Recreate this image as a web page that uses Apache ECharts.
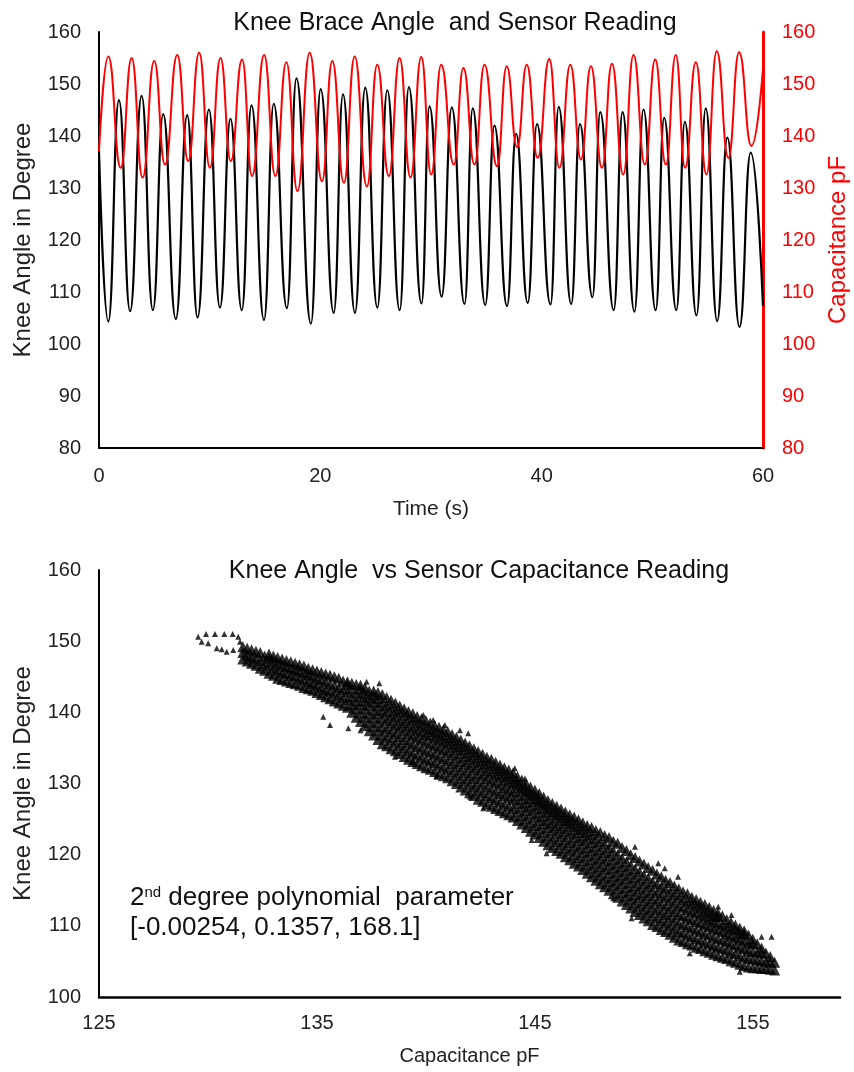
<!DOCTYPE html>
<html>
<head>
<meta charset="utf-8">
<script src="https://cdn.jsdelivr.net/npm/echarts@6/dist/echarts.min.js"></script>
<style>
html,body{margin:0;padding:0;background:#fff;}
#c{width:854px;height:1072px;}
</style>
</head>
<body>
<div id="c"></div>
<script>
// ---------- Top chart: knee angle (black) extremes ----------
const angleTime = [0, 0.84, 1.80, 2.81, 3.85, 4.87, 5.80, 6.94, 7.97, 8.91, 9.93, 10.93, 11.88, 12.90, 13.78, 14.91, 15.79, 16.98, 17.84, 19.15, 20.03, 21.21, 22.05, 23.13, 24.06, 25.15, 26.05, 27.17, 28.00, 29.14, 29.87, 30.96, 31.88, 33.03, 33.77, 34.90, 35.73, 36.87, 37.69, 38.74, 39.58, 40.80, 41.54, 42.67, 43.46, 44.59, 45.29, 46.51, 47.31, 48.38, 49.20, 50.30, 51.07, 52.17, 52.94, 53.99, 54.83, 55.86, 56.78, 57.88, 58.89, 60.0];
const angleValue = [137.1, 104.3, 146.9, 106.3, 147.7, 106.5, 144.2, 104.8, 144.0, 105.1, 145.1, 107.0, 143.3, 106.5, 145.9, 104.6, 146.2, 106.9, 151.1, 103.9, 149.0, 106.0, 148.0, 106.0, 149.3, 107.0, 148.8, 106.5, 149.4, 107.8, 145.7, 109.1, 145.5, 107.7, 145.3, 107.5, 142.0, 107.3, 140.4, 107.9, 142.3, 107.6, 145.6, 107.7, 142.3, 109.0, 144.6, 106.5, 144.6, 106.2, 145.1, 106.5, 143.5, 106.5, 142.7, 105.5, 145.3, 104.4, 139.7, 103.3, 136.8, 107.3];
// ---------- Top chart: capacitance (red) extremes ----------
const capTime = [0, 0.84, 1.96, 2.95, 3.94, 4.99, 5.96, 7.07, 8.06, 9.05, 10.02, 10.98, 11.91, 12.93, 13.83, 14.92, 15.94, 16.93, 17.93, 19.04, 20.15, 21.08, 22.13, 23.10, 24.21, 25.14, 26.19, 27.16, 28.15, 29.12, 30.02, 30.92, 32.06, 32.93, 33.93, 34.83, 35.97, 36.84, 37.78, 38.65, 39.64, 40.69, 41.60, 42.59, 43.55, 44.45, 45.45, 46.35, 47.37, 48.30, 49.33, 50.26, 51.22, 52.12, 52.96, 53.93, 54.89, 55.82, 56.87, 57.84, 58.95, 60.0];
const capValue = [137.0, 155.3, 133.9, 155.0, 132.0, 154.4, 134.5, 155.6, 135.2, 156.0, 133.9, 155.0, 135.2, 154.7, 132.3, 155.6, 132.3, 154.2, 129.4, 156.0, 131.3, 154.4, 131.0, 155.3, 130.3, 153.7, 132.3, 155.0, 132.0, 155.2, 132.6, 153.7, 134.5, 153.1, 134.5, 153.7, 134.2, 153.4, 137.8, 153.7, 135.8, 154.8, 133.9, 153.7, 135.5, 153.4, 133.9, 153.9, 132.6, 155.6, 134.5, 154.7, 134.5, 155.6, 133.9, 154.2, 132.6, 156.3, 135.8, 156.1, 138.1, 153.0];

const timeTicks = [0, 20, 40, 60];
const angleTicks = [80, 90, 100, 110, 120, 130, 140, 150, 160];

// ---------- Bottom chart: scatter points read column by column ----------
const scatterCapCols = [131.6, 132.0, 132.4, 132.8, 133.2, 133.6, 134.0, 134.4, 134.8, 135.2, 135.6, 136.0, 136.4, 136.8, 137.2, 137.6, 138.0, 138.4, 138.8, 139.2, 139.6, 140.0, 140.4, 140.8, 141.2, 141.6, 142.0, 142.4, 142.8, 143.2, 143.6, 144.0, 144.4, 144.8, 145.2, 145.6, 146.0, 146.4, 146.8, 147.2, 147.6, 148.0, 148.4, 148.8, 149.2, 149.6, 150.0, 150.4, 150.8, 151.2, 151.6, 152.0, 152.4, 152.8, 153.2, 153.6, 154.0, 154.4, 154.8, 155.2, 155.6, 156.0];
const scatterAngleCols = [
  [147.5, 148.4, 149.2],
  [146.9, 147.8, 148.8],
  [146.2, 147.3, 148.4],
  [145.5, 146.6, 147.6, 148.2],
  [144.8, 145.9, 146.9, 147.7],
  [144.4, 145.5, 146.4, 147.3],
  [144.0, 145.1, 146.0, 146.9],
  [143.5, 144.6, 145.6, 146.5],
  [143.1, 144.1, 145.1, 146.0],
  [142.5, 143.5, 144.6, 145.6],
  [141.9, 143.0, 144.0, 145.2],
  [141.3, 142.4, 143.5, 144.8],
  [140.7, 141.8, 142.9, 143.9, 144.3],
  [139.3, 140.5, 141.6, 142.7, 143.9],
  [138.1, 139.3, 140.5, 141.6, 142.6, 143.5],
  [136.8, 138.0, 139.2, 140.3, 141.4, 142.4, 143.0],
  [135.6, 136.8, 138.0, 139.2, 140.3, 141.4, 142.5],
  [134.9, 136.1, 137.3, 138.5, 139.6, 140.7, 141.7],
  [134.2, 135.4, 136.6, 137.8, 138.9, 140.0, 140.9],
  [133.4, 134.6, 135.8, 137.0, 138.1, 139.2, 140.1],
  [132.8, 134.0, 135.2, 136.4, 137.5, 138.5, 139.4],
  [132.2, 133.4, 134.6, 135.8, 136.9, 137.9, 138.8],
  [131.7, 132.9, 134.1, 135.3, 136.4, 137.3, 138.2],
  [131.1, 132.3, 133.5, 134.7, 135.8, 136.7, 137.6],
  [130.4, 131.6, 132.8, 134.0, 135.1, 136.0, 136.9],
  [129.5, 130.7, 131.9, 133.1, 134.2, 135.2, 136.1],
  [128.7, 129.9, 131.1, 132.3, 133.4, 134.4, 135.3],
  [127.8, 129.0, 130.2, 131.4, 132.6, 133.6, 134.5],
  [127.1, 128.3, 129.5, 130.7, 131.8, 132.8, 133.7],
  [126.5, 127.7, 128.9, 130.1, 131.2, 132.1, 133.0],
  [125.9, 127.1, 128.3, 129.4, 130.5, 131.4, 132.2],
  [125.3, 126.5, 127.7, 128.8, 129.9, 130.7, 131.5],
  [124.3, 125.5, 126.7, 127.8, 128.9, 129.7, 130.5],
  [123.3, 124.5, 125.7, 126.8, 127.9, 128.7, 129.5],
  [122.4, 123.6, 124.8, 125.9, 127.0, 127.8, 128.6],
  [121.4, 122.6, 123.8, 124.9, 126.0, 126.8, 127.6],
  [120.6, 121.8, 123.0, 124.1, 125.2, 126.0, 126.8],
  [119.7, 120.9, 122.1, 123.3, 124.4, 125.2, 126.0],
  [118.8, 120.0, 121.2, 122.4, 123.5, 124.4, 125.3],
  [117.9, 119.1, 120.3, 121.5, 122.6, 123.6, 124.5],
  [116.9, 118.1, 119.3, 120.5, 121.7, 122.8, 123.8],
  [115.9, 117.1, 118.3, 119.5, 120.7, 121.9, 123.1],
  [115.0, 116.2, 117.4, 118.6, 119.8, 121.0, 122.4],
  [114.0, 115.2, 116.4, 117.6, 118.8, 120.0, 121.6],
  [113.0, 114.2, 115.4, 116.6, 117.8, 119.0, 120.6],
  [112.0, 113.2, 114.4, 115.6, 116.8, 118.0, 119.6],
  [111.1, 112.3, 113.5, 114.7, 115.9, 117.1, 118.7],
  [110.2, 111.4, 112.6, 113.8, 115.0, 116.2, 117.8],
  [109.5, 110.7, 111.9, 113.1, 114.3, 115.5, 116.9],
  [108.8, 110.0, 111.2, 112.4, 113.6, 114.8, 116.1],
  [108.0, 109.2, 110.4, 111.6, 112.8, 114.0, 115.2],
  [107.5, 108.7, 109.9, 111.1, 112.3, 113.4, 114.5],
  [107.0, 108.2, 109.4, 110.6, 111.8, 112.8, 113.7],
  [106.5, 107.7, 108.9, 110.1, 111.2, 112.1, 113.0],
  [106.0, 107.2, 108.4, 109.6, 110.6, 111.4, 112.2],
  [105.6, 106.8, 108.0, 109.2, 110.2, 111.4],
  [105.1, 106.3, 107.5, 108.6, 109.6, 110.5],
  [104.6, 105.8, 107.0, 108.1, 109.0, 109.7],
  [104.2, 105.4, 106.5, 107.6, 108.7],
  [104.1, 105.2, 106.3, 107.5],
  [104.0, 105.0, 106.2],
  [103.8, 104.9]
];
const scatterCapCols2 = [131.8, 132.2, 132.6, 133.0, 133.4, 133.8, 134.2, 134.6, 135.0, 135.4, 135.8, 136.2, 136.6, 137.0, 137.4, 137.8, 138.2, 138.6, 139.0, 139.4, 139.8, 140.2, 140.6, 141.0, 141.4, 141.8, 142.2, 142.6, 143.0, 143.4, 143.8, 144.2, 144.6, 145.0, 145.4, 145.8, 146.2, 146.6, 147.0, 147.4, 147.8, 148.2, 148.6, 149.0, 149.4, 149.8, 150.2, 150.6, 151.0, 151.4, 151.8, 152.2, 152.6, 153.0, 153.4, 153.8, 154.2, 154.6, 155.0, 155.4, 155.8];
const scatterAngleCols2 = [
  [147.2, 148.1, 149.0],
  [146.6, 147.6, 148.6],
  [145.9, 146.9, 147.9],
  [145.2, 146.2, 147.2, 147.9],
  [144.6, 145.6, 146.6, 147.5],
  [144.2, 145.2, 146.2, 147.1],
  [143.8, 144.8, 145.8, 146.7],
  [143.3, 144.3, 145.3, 146.2],
  [142.8, 143.8, 144.8, 145.8],
  [142.2, 143.2, 144.3, 145.4],
  [141.6, 142.7, 143.8, 145.0],
  [141.0, 142.1, 143.2, 144.4],
  [140.0, 141.1, 142.2, 143.3, 144.1],
  [138.7, 139.9, 141.1, 142.2, 143.2, 143.8],
  [137.4, 138.6, 139.8, 141.0, 142.0, 143.0],
  [136.2, 137.4, 138.6, 139.8, 140.9, 141.9, 142.8],
  [135.3, 136.5, 137.7, 138.9, 140.0, 141.0, 142.1],
  [134.6, 135.8, 137.0, 138.2, 139.3, 140.3, 141.3],
  [133.8, 135.0, 136.2, 137.4, 138.5, 139.6, 140.5],
  [133.1, 134.3, 135.5, 136.7, 137.8, 138.9, 139.8],
  [132.5, 133.7, 134.9, 136.1, 137.2, 138.2, 139.1],
  [132.0, 133.2, 134.4, 135.6, 136.7, 137.6, 138.5],
  [131.4, 132.6, 133.8, 135.0, 136.1, 137.0, 137.9],
  [130.8, 132.0, 133.2, 134.4, 135.5, 136.4, 137.3],
  [130.0, 131.2, 132.4, 133.6, 134.7, 135.6, 136.5],
  [129.1, 130.3, 131.5, 132.7, 133.8, 134.8, 135.7],
  [128.3, 129.5, 130.7, 131.9, 133.0, 134.0, 134.9],
  [127.5, 128.7, 129.9, 131.1, 132.2, 133.2, 134.1],
  [126.8, 128.0, 129.2, 130.4, 131.5, 132.5, 133.4],
  [126.2, 127.4, 128.6, 129.8, 130.9, 131.8, 132.6],
  [125.6, 126.8, 128.0, 129.1, 130.2, 131.1, 131.9],
  [124.8, 126.0, 127.2, 128.3, 129.4, 130.2, 131.0],
  [123.8, 125.0, 126.2, 127.3, 128.4, 129.2, 130.0],
  [122.9, 124.1, 125.3, 126.4, 127.5, 128.3, 129.1],
  [121.9, 123.1, 124.3, 125.4, 126.5, 127.3, 128.1],
  [121.0, 122.2, 123.4, 124.5, 125.6, 126.4, 127.2],
  [120.2, 121.4, 122.6, 123.7, 124.8, 125.6, 126.4],
  [119.3, 120.5, 121.7, 122.9, 124.0, 124.8, 125.6],
  [118.4, 119.6, 120.8, 122.0, 123.1, 124.0, 124.9],
  [117.4, 118.6, 119.8, 121.0, 122.2, 123.2, 124.1],
  [116.4, 117.6, 118.8, 120.0, 121.2, 122.3, 123.4],
  [115.5, 116.7, 117.9, 119.1, 120.3, 121.5, 122.7],
  [114.5, 115.7, 116.9, 118.1, 119.3, 120.5, 121.9],
  [113.5, 114.7, 115.9, 117.1, 118.3, 119.5, 121.0],
  [112.5, 113.7, 114.9, 116.1, 117.3, 118.5, 120.0],
  [111.6, 112.8, 114.0, 115.2, 116.4, 117.6, 119.1],
  [110.7, 111.9, 113.1, 114.3, 115.5, 116.7, 118.2],
  [109.9, 111.1, 112.3, 113.5, 114.7, 115.9, 117.3],
  [109.2, 110.4, 111.6, 112.8, 114.0, 115.2, 116.4],
  [108.4, 109.6, 110.8, 112.0, 113.2, 114.4, 115.6],
  [107.8, 109.0, 110.2, 111.4, 112.6, 113.7, 114.8],
  [107.3, 108.5, 109.7, 110.9, 112.0, 113.1, 114.0],
  [106.8, 108.0, 109.2, 110.4, 111.5, 112.5, 113.3],
  [106.3, 107.5, 108.7, 109.9, 110.9, 111.8, 112.6],
  [105.8, 107.0, 108.2, 109.4, 110.4, 111.3, 111.8],
  [105.4, 106.6, 107.8, 108.9, 109.9, 110.9],
  [104.9, 106.1, 107.3, 108.4, 109.4, 110.1],
  [104.4, 105.6, 106.8, 107.9, 108.9, 109.3],
  [104.1, 105.3, 106.4, 107.5, 108.1],
  [104.0, 105.1, 106.2, 106.9],
  [103.9, 104.9, 105.7]
];
// loop at the top-left end and scattered outliers along the band edges
const extraCap = [129.55, 129.91, 130.32, 130.75, 131.13, 131.39, 131.47, 129.71, 130.01, 130.40, 130.63, 130.86, 131.16, 135.29, 135.60, 136.44, 137.00, 137.86, 137.28, 141.56, 141.94, 144.08, 144.54, 150.66, 150.96, 151.57, 155.86, 155.40,
  140.33, 140.87, 139.88, 138.58, 139.42, 140.49, 142.02, 142.63, 144.85, 145.54, 148.59, 149.44, 152.11, 154.40, 149.59, 153.41, 154.02];
const extraAngle = [150.63, 151.0, 151.0, 151.0, 151.0, 150.63, 149.92, 149.92, 149.70, 149.0, 148.86, 148.52, 148.76, 139.38, 138.22, 137.75, 137.50, 144.08, 144.30, 137.50, 137.05, 132.13, 130.70, 118.79, 118.08, 116.90, 108.47, 108.47,
  138.92, 138.22, 139.62, 133.76, 133.06, 130.95, 128.14, 126.51, 122.06, 120.19, 113.87, 111.06, 106.14, 103.55, 121.12, 112.69, 111.52];

const capTicks = [125, 135, 145, 155];
const angleTicks2 = [100, 110, 120, 130, 140, 150, 160];

// ---------- build ----------
const angleData = angleTime.map((t, i) => [t, angleValue[i]]);
const capData = capTime.map((t, i) => [t, capValue[i]]);
const bandData = [];
scatterCapCols.forEach((c, i) => scatterAngleCols[i].forEach(a => bandData.push([c, a])));
scatterCapCols2.forEach((c, i) => scatterAngleCols2[i].forEach(a => bandData.push([c, a])));
const extraData = extraCap.map((c, i) => [c, extraAngle[i]]);

const FONT = 'Liberation Sans, Arial, sans-serif';
const labelColor = '#222';

const chart = echarts.init(document.getElementById('c'), null, {renderer: 'canvas'});
chart.setOption({
  animation: false,
  backgroundColor: '#fff',
  textStyle: {fontFamily: FONT},
  title: [
    {text: 'Knee Brace Angle  and Sensor Reading', left: 450, top: 6, textAlign: 'center',
     textStyle: {fontFamily: FONT, fontSize: 25, fontWeight: 'normal', color: '#111'}},
    {text: 'Knee Angle  vs Sensor Capacitance Reading', left: 474, top: 554, textAlign: 'center',
     textStyle: {fontFamily: FONT, fontSize: 25, fontWeight: 'normal', color: '#111'}}
  ],
  grid: [
    {left: 99, top: 32, width: 664, height: 416, containLabel: false, outerBoundsMode: 'none'},
    {left: 99, top: 570, width: 741, height: 427, containLabel: false, outerBoundsMode: 'none'}
  ],
  xAxis: [
    {type: 'value', gridIndex: 0, min: timeTicks[0], max: timeTicks[timeTicks.length - 1], interval: 20,
     name: 'Time (s)', nameLocation: 'middle', nameGap: 51,
     nameTextStyle: {fontFamily: FONT, fontSize: 21, color: labelColor},
     axisLine: {lineStyle: {color: '#000', width: 2}}, axisTick: {show: false}, splitLine: {show: false},
     axisLabel: {fontFamily: FONT, fontSize: 20, color: labelColor, margin: 18}},
    {type: 'value', gridIndex: 1, min: 125, max: 159, interval: 1,
     name: 'Capacitance pF', nameLocation: 'middle', nameGap: 49,
     nameTextStyle: {fontFamily: FONT, fontSize: 20, color: labelColor},
     axisLine: {lineStyle: {color: '#000', width: 2.5}}, axisTick: {show: false}, splitLine: {show: false},
     axisLabel: {fontFamily: FONT, fontSize: 20, color: labelColor, margin: 16, interval: 0,
       formatter: v => capTicks.indexOf(Math.round(v)) >= 0 ? String(Math.round(v)) : ''}}
  ],
  yAxis: [
    {type: 'value', gridIndex: 0, min: angleTicks[0], max: angleTicks[angleTicks.length - 1], interval: 10,
     name: 'Knee Angle in Degree', nameLocation: 'middle', nameGap: 64,
     nameTextStyle: {fontFamily: FONT, fontSize: 24, color: labelColor},
     axisLine: {show: true, lineStyle: {color: '#000', width: 2}}, axisTick: {show: false}, splitLine: {show: false},
     axisLabel: {fontFamily: FONT, fontSize: 20, color: labelColor, margin: 18}},
    {type: 'value', gridIndex: 0, position: 'right', min: 80, max: 160, interval: 10,
     name: 'Capacitance pF', nameLocation: 'middle', nameGap: 63,
     nameTextStyle: {fontFamily: FONT, fontSize: 24, color: '#ff0000'},
     axisLine: {show: true, lineStyle: {color: '#ff0000', width: 3}}, axisTick: {show: false}, splitLine: {show: false},
     axisLabel: {fontFamily: FONT, fontSize: 20, color: '#ff0000', margin: 19}},
    {type: 'value', gridIndex: 1, min: angleTicks2[0], max: angleTicks2[angleTicks2.length - 1], interval: 10,
     name: 'Knee Angle in Degree', nameLocation: 'middle', nameGap: 64,
     nameTextStyle: {fontFamily: FONT, fontSize: 24, color: labelColor},
     axisLine: {show: true, lineStyle: {color: '#000', width: 2}}, axisTick: {show: false}, splitLine: {show: false},
     axisLabel: {fontFamily: FONT, fontSize: 20, color: labelColor, margin: 18}}
  ],
  series: [
    {type: 'line', xAxisIndex: 0, yAxisIndex: 0, data: angleData, smooth: 0.5, smoothMonotone: 'x',
     showSymbol: false, lineStyle: {color: '#000', width: 2.2}, z: 2},
    {type: 'line', xAxisIndex: 0, yAxisIndex: 1, data: capData, smooth: 0.5, smoothMonotone: 'x',
     showSymbol: false, lineStyle: {color: '#ff0000', width: 2}, z: 3},
    {type: 'scatter', xAxisIndex: 1, yAxisIndex: 2, data: bandData, symbol: 'triangle', symbolSize: 11,
     itemStyle: {color: '#000'}},
    {type: 'scatter', xAxisIndex: 1, yAxisIndex: 2, data: extraData, symbol: 'triangle', symbolSize: 6,
     itemStyle: {color: '#000'}}
  ],
  graphic: [
    {type: 'text', left: 130, top: 885, style: {
      text: '2{sup|nd} degree polynomial  parameter', fontFamily: FONT, fontSize: 26, fill: '#111',
      rich: {sup: {fontFamily: FONT, fontSize: 15, verticalAlign: 'top', fill: '#111', padding: [0, 0, 9, 0]}}}},
    {type: 'text', left: 130, top: 915, style: {
      text: '[-0.00254, 0.1357, 168.1]', fontFamily: FONT, fontSize: 26, fill: '#111'}}
  ]
});
</script>
</body>
</html>
